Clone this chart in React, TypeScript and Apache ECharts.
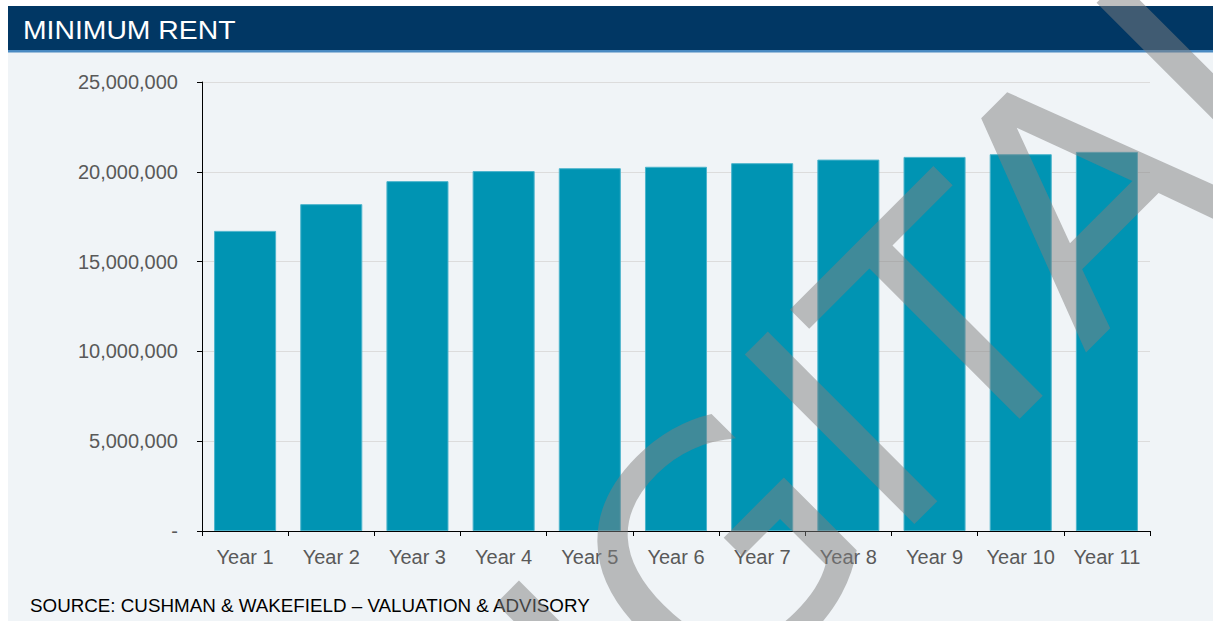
import React, { useEffect, useRef } from 'react';
import * as echarts from 'echarts';

const categories = ['Year 1', 'Year 2', 'Year 3', 'Year 4', 'Year 5', 'Year 6', 'Year 7', 'Year 8', 'Year 9', 'Year 10', 'Year 11'];
const minimumRent = [16710000, 18200000, 19480000, 20040000, 20200000, 20280000, 20480000, 20680000, 20830000, 20980000, 21110000];
const yMin = 0;
const yMax = 25000000;
const yStep = 5000000;
const title = 'MINIMUM RENT';
const sourceNote = 'SOURCE: CUSHMAN & WAKEFIELD \u2013 VALUATION & ADVISORY';
const watermark = 'DIGITAL';

const FONT = '"Liberation Sans", Arial, Helvetica, sans-serif';

export default function App() {
  const ref = useRef<HTMLDivElement>(null);
  useEffect(() => {
    if (!ref.current) return;
    const chart = echarts.init(ref.current, null, { renderer: 'svg' });
    chart.setOption({
      animation: false,
      backgroundColor: '#ffffff',
      grid: { left: 202, right: 63, top: 82, bottom: 90, containLabel: false },
      xAxis: {
        type: 'category',
        data: categories,
        boundaryGap: true,
        axisLine: { show: true, lineStyle: { color: '#000000', width: 1 } },
        axisTick: { show: true, length: 5, interval: 0, lineStyle: { color: '#000000' } },
        axisLabel: { interval: 0, margin: 16, color: '#595959', fontSize: 20, fontFamily: FONT },
        splitLine: { show: false },
      },
      yAxis: {
        type: 'value',
        min: yMin,
        max: yMax,
        interval: yStep,
        axisLine: { show: true, lineStyle: { color: '#000000', width: 1 } },
        axisTick: { show: true, length: 5, lineStyle: { color: '#000000' } },
        axisLabel: {
          margin: 24,
          color: '#595959',
          fontSize: 20,
          fontFamily: FONT,
          formatter: (v: number) => (v === 0 ? '-' : v.toLocaleString('en-US')),
        },
        splitLine: { show: true, lineStyle: { color: '#dcdcdc', width: 1 } },
      },
      series: [
        {
          type: 'bar',
          data: minimumRent,
          barCategoryGap: '28%',
          itemStyle: { color: '#0094b3', borderColor: '#4cb4cc', borderWidth: 1 },
          z: 2,
        },
      ],
      graphic: [
        { type: 'rect', z: -100, shape: { x: 8, y: 6, width: 1205, height: 615 }, style: { fill: '#f0f4f7' } },
        { type: 'rect', z: -90, shape: { x: 8, y: 6, width: 1205, height: 44 }, style: { fill: '#013764' } },
        { type: 'rect', z: -90, shape: { x: 8, y: 50, width: 1205, height: 2.5 }, style: { fill: '#4a8ac2' } },
        {
          type: 'text',
          z: -80,
          x: 23,
          y: 30,
          scaleX: 1.09,
          style: { text: title, fill: '#ffffff', font: `26px ${FONT}`, align: 'left', verticalAlign: 'middle' },
        },
        {
          type: 'text',
          z: -80,
          x: 30,
          y: 605,
          style: { text: sourceNote, fill: '#000000', font: `18.8px ${FONT}`, align: 'left', verticalAlign: 'middle' },
        },
        {
          type: 'text',
          z: 100,
          x: 838,
          y: 440,
          rotation: Math.PI / 4,
          style: {
            text: watermark,
            fill: 'rgba(128,128,128,0.5)',
            font: '329px "DejaVu Sans"',
            align: 'center',
            verticalAlign: 'middle',
          },
        },
      ],
    });
    return () => chart.dispose();
  }, []);
  return <div ref={ref} style={{ position: 'absolute', left: 0, top: 0, width: 1213, height: 621 }} />;
}
